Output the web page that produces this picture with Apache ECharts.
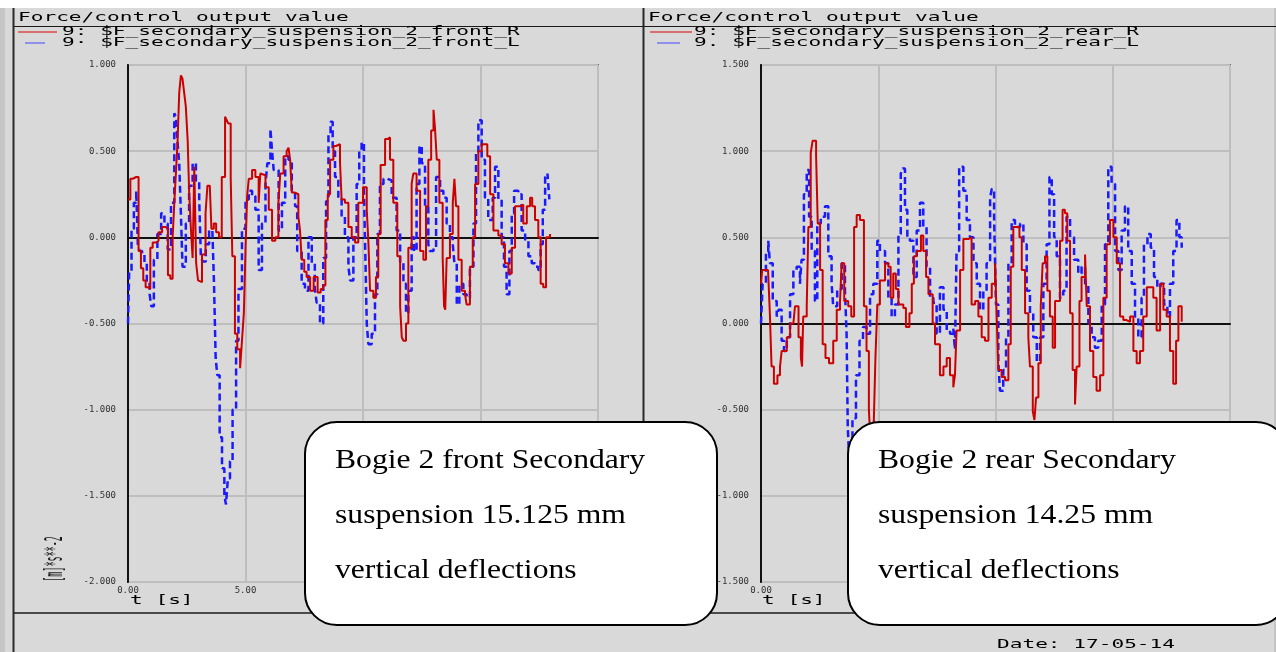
<!DOCTYPE html>
<html>
<head>
<meta charset="utf-8">
<script src="https://cdn.jsdelivr.net/npm/echarts@6/dist/echarts.min.js"></script>
<style>
html,body{margin:0;padding:0;background:#d9d9d9;}
#c{width:1276px;height:652px;}
</style>
</head>
<body>
<div id="c"></div>
<script>
// ---------- data (time [s], value) ----------
var panelTitle = 'Force/control output value';
var frontNames = ['9: $F_secondary_suspension_2_front_R', '9\u00b7 $F_secondary_suspension_2_front_L'];
var rearNames  = ['9: $F_secondary_suspension_2_rear_R', '9. $F_secondary_suspension_2_rear_L'];
var xTicksInterval = 5;
var frontYRange = [-2, 1];
var rearYRange  = [-1.5, 1.5];
var frontNote = ['Bogie 2 front Secondary', 'suspension 15.125 mm', 'vertical deflections'];
var rearNote  = ['Bogie 2 rear Secondary', 'suspension 14.25 mm', 'vertical deflections'];
var dateText = 'Date: 17-05-14';
var yUnit = '[m]*s**-2';
var xUnit = 't [s]';

var frontR = [[0.0,0.22],[0.1,0.34],[0.2,0.35],[0.35,0.35],[0.45,-0.08],[0.55,-0.18],[0.65,-0.25],[0.75,-0.29],[0.85,-0.30],[0.95,-0.06],[1.05,-0.03],[1.2,-0.02],[1.3,0.03],[1.45,0.06],[1.6,0.05],[1.7,-0.22],[1.8,-0.24],[1.9,0.0],[1.97,0.2],[2.05,0.40],[2.11,0.56],[2.18,0.84],[2.25,0.94],[2.32,0.92],[2.39,0.84],[2.46,0.76],[2.54,0.56],[2.6,0.27],[2.68,0.04],[2.75,-0.12],[2.82,0.41],[2.9,-0.15],[2.98,-0.25],[3.05,-0.26],[3.15,-0.10],[3.3,0.14],[3.38,0.30],[3.48,0.31],[3.55,0.05],[3.65,0.08],[3.75,0.03],[3.87,0.0],[3.99,0.35],[4.13,0.70],[4.2,0.68],[4.27,0.66],[4.37,0.35],[4.44,-0.11],[4.55,-0.56],[4.65,-0.65],[4.77,-0.76],[4.85,-0.60],[4.93,-0.44],[5.0,-0.07],[5.07,0.24],[5.14,0.34],[5.28,0.39],[5.42,0.35],[5.56,0.20],[5.63,0.37],[5.7,0.36],[5.85,0.29],[5.99,0.16],[6.13,-0.02],[6.27,0.0],[6.4,0.2],[6.48,0.37],[6.62,0.47],[6.75,0.50],[6.83,0.52],[6.9,0.45],[6.97,0.26],[7.1,0.25],[7.25,0.12],[7.32,0.04],[7.39,-0.13],[7.5,-0.20],[7.6,-0.23],[7.75,-0.31],[7.9,-0.23],[8.07,-0.32],[8.2,-0.30],[8.3,-0.28],[8.4,0.10],[8.5,0.25],[8.6,0.45],[8.74,0.53],[8.85,0.54],[9.02,0.44],[9.09,0.22],[9.23,0.20],[9.38,0.06],[9.52,0.0],[9.66,-0.03],[9.8,0.2],[10.0,0.29],[10.16,0.16],[10.23,-0.03],[10.3,-0.31],[10.44,-0.35],[10.55,-0.23],[10.65,0.02],[10.75,0.42],[10.94,0.57],[11.04,0.58],[11.15,0.45],[11.29,0.2],[11.46,-0.11],[11.58,-0.40],[11.65,-0.58],[11.72,-0.60],[11.83,-0.50],[11.93,-0.06],[12.07,0.31],[12.14,0.37],[12.28,0.27],[12.43,-0.08],[12.57,-0.13],[12.68,0.18],[12.78,0.45],[12.9,0.62],[13.0,0.74],[13.06,0.64],[13.14,0.45],[13.25,0.2],[13.39,-0.12],[13.45,-0.40],[13.5,-0.42],[13.56,-0.12],[13.7,0.02],[13.82,0.20],[13.89,0.34],[13.96,0.18],[14.06,-0.13],[14.2,-0.31],[14.34,-0.33],[14.41,-0.39],[14.55,-0.17],[14.67,0.0],[14.77,0.31],[14.91,0.50],[15.05,0.54],[15.19,0.54],[15.29,0.47],[15.41,0.25],[15.55,0.04],[15.76,0.01],[15.9,-0.04],[16.04,-0.15],[16.19,-0.21],[16.33,-0.06],[16.47,0.18],[16.68,0.19],[16.82,0.08],[16.97,0.18],[17.11,0.23],[17.2,0.18],[17.32,0.10],[17.46,0.0],[17.56,-0.27],[17.67,-0.29],[17.79,0.0],[17.96,0.02]];

var frontL = [[0.0,-0.50],[0.05,-0.2],[0.15,0.05],[0.25,0.20],[0.35,0.27],[0.42,-0.05],[0.5,-0.08],[0.6,-0.10],[0.7,-0.15],[0.8,-0.25],[0.92,-0.33],[0.99,-0.40],[1.1,-0.13],[1.25,0.02],[1.41,0.14],[1.55,0.08],[1.69,-0.07],[1.83,0.20],[1.97,0.72],[2.04,0.70],[2.11,0.55],[2.18,0.43],[2.25,0.14],[2.32,-0.17],[2.46,0.08],[2.6,0.30],[2.75,0.43],[2.89,0.33],[3.03,0.22],[3.1,-0.11],[3.17,-0.14],[3.31,-0.04],[3.45,0.04],[3.59,0.04],[3.66,-0.27],[3.73,-0.70],[3.8,-0.80],[3.9,-1.16],[4.0,-1.34],[4.1,-1.50],[4.17,-1.55],[4.25,-1.40],[4.34,-1.30],[4.45,-1.0],[4.6,-0.60],[4.7,-0.30],[4.85,0.05],[5.0,0.22],[5.14,0.27],[5.28,0.24],[5.42,0.16],[5.56,-0.19],[5.7,0.08],[5.85,0.31],[5.93,0.43],[6.06,0.63],[6.13,0.50],[6.2,0.39],[6.41,0.04],[6.55,0.20],[6.69,0.47],[6.83,0.45],[6.97,0.27],[7.11,0.18],[7.2,-0.08],[7.39,-0.27],[7.53,-0.31],[7.68,0.0],[7.82,-0.15],[7.95,-0.30],[8.03,-0.38],[8.17,-0.50],[8.31,-0.12],[8.43,0.21],[8.53,0.60],[8.62,0.67],[8.71,0.50],[8.81,0.35],[8.95,0.23],[9.09,0.12],[9.23,0.0],[9.38,-0.17],[9.45,-0.25],[9.59,0.0],[9.73,0.31],[9.84,0.50],[9.94,0.55],[10.04,0.27],[10.11,-0.17],[10.16,-0.50],[10.23,-0.62],[10.37,-0.56],[10.51,-0.33],[10.61,0.02],[10.72,0.31],[10.87,0.34],[11.04,0.33],[11.22,0.23],[11.43,0.04],[11.58,-0.15],[11.72,-0.27],[11.83,-0.44],[11.93,-0.31],[12.07,0.0],[12.17,-0.08],[12.28,0.31],[12.4,0.53],[12.5,0.43],[12.64,0.18],[12.78,-0.04],[12.85,-0.08],[13.0,-0.06],[13.11,0.35],[13.28,0.27],[13.42,0.23],[13.56,0.08],[13.7,0.0],[13.82,-0.04],[13.89,-0.15],[13.99,-0.39],[14.1,-0.27],[14.27,-0.33],[14.41,-0.35],[14.55,-0.17],[14.7,0.08],[14.81,0.50],[14.91,0.68],[15.05,0.45],[15.19,0.23],[15.33,0.10],[15.52,0.23],[15.62,0.41],[15.76,0.22],[15.9,0.0],[16.0,-0.17],[16.11,-0.33],[16.23,-0.08],[16.33,0.14],[16.43,0.27],[16.61,0.25],[16.75,0.04],[16.9,-0.02],[17.04,-0.11],[17.18,-0.15],[17.32,-0.17],[17.46,-0.19],[17.56,-0.04],[17.65,0.16],[17.75,0.35],[17.85,0.37],[17.93,0.22]];

var rearR = [[0.0,0.23],[0.05,0.31],[0.3,0.31],[0.38,0.05],[0.45,-0.25],[0.55,-0.35],[0.7,-0.30],[0.81,-0.25],[0.88,-0.16],[1.1,-0.08],[1.24,0.0],[1.38,-0.01],[1.45,0.10],[1.6,-0.08],[1.7,-0.20],[1.75,-0.25],[1.8,0.04],[1.95,0.10],[2.02,0.56],[2.12,0.99],[2.2,1.06],[2.35,0.97],[2.42,0.58],[2.52,0.31],[2.63,-0.12],[2.75,-0.20],[2.9,-0.23],[3.08,-0.10],[3.23,0.08],[3.37,0.13],[3.44,0.35],[3.55,0.13],[3.72,0.10],[3.85,0.04],[3.97,0.56],[4.08,0.63],[4.22,0.60],[4.39,0.10],[4.5,-0.16],[4.6,-0.50],[4.68,-0.72],[4.8,-0.62],[4.88,-0.20],[4.96,0.11],[5.07,0.25],[5.29,0.35],[5.43,0.33],[5.53,0.15],[5.64,0.29],[5.75,0.20],[5.86,0.11],[6.07,0.09],[6.18,-0.02],[6.33,0.06],[6.43,0.23],[6.52,0.39],[6.64,0.42],[6.82,0.51],[6.92,0.42],[7.04,0.27],[7.14,0.17],[7.32,0.0],[7.42,-0.12],[7.63,-0.30],[7.78,-0.25],[7.92,-0.20],[8.06,-0.30],[8.2,-0.37],[8.27,-0.30],[8.34,-0.04],[8.49,0.31],[8.63,0.49],[8.84,0.50],[8.98,0.11],[9.13,0.13],[9.27,0.04],[9.41,-0.08],[9.55,-0.10],[9.7,0.15],[9.84,0.23],[9.98,0.35],[10.05,0.04],[10.12,-0.27],[10.26,-0.31],[10.41,-0.33],[10.55,-0.12],[10.65,0.33],[10.76,0.56],[10.9,0.56],[11.02,0.50],[11.12,0.31],[11.26,0.06],[11.4,-0.08],[11.47,-0.25],[11.59,-0.51],[11.66,-0.56],[11.73,-0.43],[11.83,-0.23],[11.93,0.10],[12.01,0.35],[12.11,0.39],[12.21,0.19],[12.32,0.04],[12.44,-0.14],[12.54,0.13],[12.65,0.13],[12.75,0.48],[12.86,0.66],[12.96,0.64],[13.06,0.48],[13.18,0.06],[13.29,-0.27],[13.39,-0.47],[13.46,-0.25],[13.58,0.13],[13.67,0.27],[13.82,0.40],[13.89,0.10],[14.03,-0.16],[14.17,-0.31],[14.31,-0.39],[14.46,-0.30],[14.6,0.15],[14.74,0.46],[14.88,0.60],[15.03,0.50],[15.17,0.35],[15.31,0.04],[15.45,0.02],[15.59,0.01],[15.74,0.04],[15.88,-0.16],[16.02,-0.23],[16.16,-0.16],[16.3,0.04],[16.45,0.21],[16.59,0.21],[16.73,0.15],[16.87,-0.04],[17.02,0.23],[17.16,0.08],[17.3,0.04],[17.44,-0.16],[17.58,-0.35],[17.7,-0.10],[17.8,0.10],[17.94,0.01]];

var rearL = [[0.0,0.0],[0.07,0.23],[0.21,0.42],[0.31,0.48],[0.38,0.35],[0.5,0.13],[0.67,0.04],[0.75,0.08],[0.88,-0.10],[0.98,-0.16],[1.1,-0.08],[1.24,0.17],[1.38,0.31],[1.52,0.33],[1.66,0.23],[1.73,0.37],[1.83,0.75],[1.95,0.89],[2.05,0.62],[2.16,0.42],[2.3,0.13],[2.4,0.58],[2.55,0.62],[2.73,0.68],[2.87,0.39],[3.01,0.23],[3.08,0.10],[3.25,0.20],[3.44,0.35],[3.58,0.19],[3.65,-0.06],[3.7,-0.60],[3.75,-0.76],[3.9,-0.55],[4.05,-0.30],[4.2,-0.10],[4.35,-0.02],[4.5,-0.06],[4.65,0.17],[4.79,0.23],[4.96,0.48],[5.07,0.42],[5.29,0.35],[5.43,0.15],[5.57,0.04],[5.71,0.11],[5.86,0.52],[5.96,0.87],[6.04,0.90],[6.14,0.66],[6.24,0.50],[6.35,0.48],[6.5,0.27],[6.64,0.54],[6.78,0.70],[6.92,0.56],[7.06,0.33],[7.21,0.15],[7.35,0.12],[7.49,-0.06],[7.63,0.21],[7.78,0.08],[7.92,-0.04],[8.06,-0.06],[8.2,-0.03],[8.27,-0.15],[8.34,0.42],[8.45,0.91],[8.63,0.77],[8.77,0.60],[8.91,0.50],[9.06,0.35],[9.2,0.23],[9.34,0.08],[9.48,0.19],[9.62,0.35],[9.77,0.73],[9.84,0.78],[9.94,0.62],[10.02,0.11],[10.12,-0.22],[10.19,-0.39],[10.33,-0.27],[10.45,-0.08],[10.55,0.35],[10.69,0.60],[10.83,0.56],[11.05,0.58],[11.19,0.46],[11.33,0.19],[11.47,0.06],[11.61,-0.08],[11.76,-0.22],[11.9,-0.08],[12.04,0.23],[12.18,0.46],[12.3,0.85],[12.4,0.75],[12.5,0.50],[12.61,0.39],[12.75,0.15],[12.89,0.19],[13.03,0.62],[13.18,0.50],[13.35,0.37],[13.53,0.29],[13.67,0.33],[13.82,0.23],[13.96,0.0],[14.1,-0.08],[14.24,-0.14],[14.38,-0.10],[14.53,0.11],[14.67,0.46],[14.81,0.91],[14.95,0.81],[15.1,0.42],[15.24,0.31],[15.38,0.54],[15.52,0.68],[15.66,0.42],[15.81,0.23],[15.95,0.04],[16.09,-0.08],[16.23,0.15],[16.33,0.46],[16.48,0.52],[16.62,0.44],[16.76,0.27],[16.9,0.21],[17.04,0.23],[17.19,0.11],[17.33,0.04],[17.44,0.23],[17.58,0.42],[17.72,0.60],[17.84,0.50],[17.94,0.44]];

// ---------- styling ----------
var MONO = '"DejaVu Sans Mono", "Liberation Mono", monospace';
var SERIF = '"Liberation Serif", "DejaVu Serif", serif';
var RED = '#cc0000', BLUE = '#1a1aff';
var SX = 1.76;

function headerText(x, y, txt) {
  return { type: 'text', x: x, y: y, scaleX: SX, z: 10,
    style: { text: txt, font: '12px ' + MONO, fill: '#000', textVerticalAlign: 'middle', verticalAlign: 'middle' } };
}
function hLine(x1, x2, y, color, w, z) {
  return { type: 'line', z: z || 10, shape: { x1: x1, y1: y, x2: x2, y2: y }, style: { stroke: color, lineWidth: w } };
}
function vLine(x, y1, y2, color, w, z) {
  return { type: 'line', z: z || 10, shape: { x1: x, y1: y1, x2: x, y2: y2 }, style: { stroke: color, lineWidth: w } };
}
function noteBox(x, w, lines) {
  var els = [{ type: 'rect', z: 100, shape: { x: x, y: 422, width: w, height: 203, r: 32 },
    style: { fill: '#ffffff', stroke: '#000000', lineWidth: 2 } }];
  var ys = [461, 516, 571];
  lines.forEach(function (t, i) {
    els.push({ type: 'text', z: 101, x: x + 30, y: ys[i], scaleX: 1.13,
      style: { text: t, font: '28px ' + SERIF, fill: '#000', verticalAlign: 'middle', textVerticalAlign: 'middle' } });
  });
  return els;
}

function xAxisCfg(gi) {
  return { type: 'value', gridIndex: gi, min: 0, max: 20, interval: xTicksInterval,
    axisLine: { show: true, lineStyle: { color: '#111', width: 2 } },
    axisTick: { show: false },
    axisLabel: { fontSize: 9, fontFamily: MONO, color: '#333', margin: 4, formatter: function (v) { return v.toFixed(2); } },
    splitLine: { show: true, lineStyle: { color: '#bebebe', width: 2 } } };
}
function yAxisCfg(gi, rng) {
  return { type: 'value', gridIndex: gi, min: rng[0], max: rng[1], interval: 0.5,
    axisLine: { show: true, onZero: false, lineStyle: { color: '#111', width: 2 } },
    axisTick: { show: false },
    axisLabel: { fontSize: 9, fontFamily: MONO, color: '#333', margin: 12, formatter: function (v) { return v.toFixed(3); } },
    splitLine: { show: true, lineStyle: { color: '#bebebe', width: 2 } } };
}
function lineSeries(name, data, xi, color, dashed) {
  return { type: 'line', name: name, xAxisIndex: xi, yAxisIndex: xi, data: data, step: 'end',
    showSymbol: false, symbol: 'none', silent: true, z: 3,
    lineStyle: { color: color, width: dashed ? 2.5 : 2, type: dashed ? [7, 4] : 'solid' } };
}

var graphics = [
  { type: 'rect', z: 1, shape: { x: 0, y: 0, width: 1276, height: 8 }, style: { fill: '#ffffff' } },
  { type: 'rect', z: 1, shape: { x: 0, y: 8, width: 5, height: 644 }, style: { fill: '#c6c6c6' } },
  vLine(13.5, 8, 652, '#2a2a2a', 2),
  vLine(643.5, 8, 613, '#2a2a2a', 2),
  vLine(1275, 8, 652, '#b0b0b0', 1),
  hLine(14, 1276, 26.5, '#1a1a1a', 1),
  hLine(14, 1276, 613, '#1a1a1a', 1.5),
  headerText(18, 18, panelTitle),
  headerText(648, 18, panelTitle),
  hLine(18, 57, 32, '#dd0000', 1),
  hLine(25, 45, 43, '#4444ff', 1),
  headerText(62, 32, frontNames[0]),
  headerText(62, 43, frontNames[1]),
  hLine(650, 692, 32, '#dd0000', 1),
  hLine(657, 680, 43, '#4444ff', 1),
  headerText(694, 32, rearNames[0]),
  headerText(694, 43, rearNames[1]),
  headerText(130, 601, xUnit),
  headerText(762, 601, xUnit),
  headerText(997, 645, dateText),
  { type: 'text', x: 56, y: 559, rotation: Math.PI / 2, scaleX: 0.7, scaleY: 2.0, z: 10,
    style: { text: yUnit, font: '12px ' + MONO, fill: '#1a1a1a', align: 'center', textAlign: 'center', verticalAlign: 'middle', textVerticalAlign: 'middle' } }
].concat(noteBox(305, 412, frontNote)).concat(noteBox(848, 440, rearNote));

var chart = echarts.init(document.getElementById('c'), null, { renderer: 'canvas' });
chart.setOption({
  animation: false,
  backgroundColor: '#d9d9d9',
  grid: [
    { left: 128, top: 65, width: 470, height: 517, show: true, borderColor: '#111', borderWidth: 1.5, backgroundColor: 'transparent' },
    { left: 761, top: 65, width: 469, height: 517, show: true, borderColor: '#111', borderWidth: 1.5, backgroundColor: 'transparent' }
  ],
  xAxis: [xAxisCfg(0), xAxisCfg(1)],
  yAxis: [yAxisCfg(0, frontYRange), yAxisCfg(1, rearYRange)],
  series: [
    lineSeries(frontNames[1], frontL, 0, BLUE, true),
    lineSeries(frontNames[0], frontR, 0, RED, false),
    lineSeries(rearNames[1], rearL, 1, BLUE, true),
    lineSeries(rearNames[0], rearR, 1, RED, false)
  ],
  graphic: graphics
});
</script>
</body>
</html>
